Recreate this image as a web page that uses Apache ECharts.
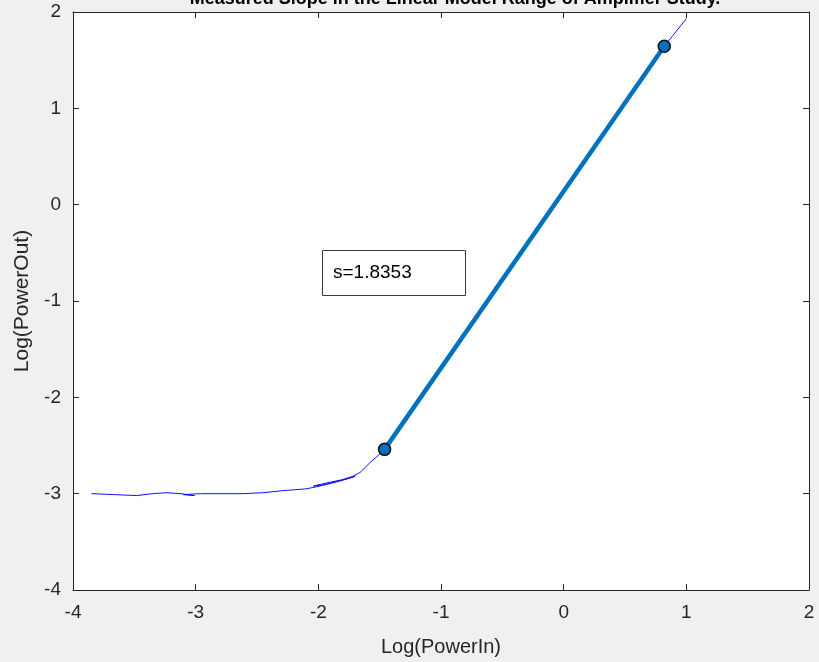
<!DOCTYPE html>
<html>
<head>
<meta charset="utf-8">
<script src="https://cdn.jsdelivr.net/npm/echarts@6/dist/echarts.min.js"></script>
<style>
  html, body { margin: 0; padding: 0; background: #f0f0f0; }
  #chart { width: 819px; height: 662px; }
</style>
</head>
<body>
<div id="chart"></div>
<script>
// Measured transfer curve (log input power vs log output power)
const measuredX = [-3.85, -3.66, -3.48, -3.35, -3.24, -3.12, -3.01, -3.10, -2.96, -2.80,
                   -2.62, -2.45, -2.30, -2.20, -2.10, -2.02, -1.92, -1.80, -1.70, -1.78,
                   -1.90, -2.04, -1.96, -1.84, -1.72, -1.66, -1.58, -1.50, -1.46, -1.30,
                   -1.00, -0.50, 0.00, 0.50, 0.82, 1.00];
const measuredY = [-3.00, -3.01, -3.02, -3.00, -2.99, -3.00, -3.02, -3.01, -3.00, -3.00,
                   -3.00, -2.99, -2.97, -2.96, -2.95, -2.93, -2.90, -2.86, -2.82, -2.85,
                   -2.88, -2.92, -2.91, -2.87, -2.82, -2.78, -2.68, -2.59, -2.54, -2.25,
                   -1.70, -0.78, 0.14, 1.06, 1.645, 1.93];

// Linear-region fit endpoints and its slope
const fitX = [-1.46, 0.82];
const fitY = [-2.54, 1.645];
const slope = 1.8353;

// Axis ticks
const xTicks = [-4, -3, -2, -1, 0, 1, 2];
const yTicks = [-4, -3, -2, -1, 0, 1, 2];

const titleText = 'Measured Slope in the Linear Model Range of Amplifier Study.';

const axisColor = '#262626';
const font = '"Liberation Sans", Arial, Helvetica, sans-serif';

const chart = echarts.init(document.getElementById('chart'));

function pairs(xs, ys) { return xs.map((x, i) => [x, ys[i]]); }

const boxAxis = (extra) => Object.assign({
  type: 'value',
  axisLine: { show: true, onZero: false, lineStyle: { color: axisColor, width: 1 } },
  axisTick: { show: true, inside: true, length: 6, lineStyle: { color: axisColor } },
  axisLabel: { show: false },
  splitLine: { show: false }
}, extra);

chart.setOption({
  backgroundColor: '#f0f0f0',
  animation: false,
  textStyle: { fontFamily: font },
  grid: { left: 73, right: 10, top: 12, bottom: 72, show: true, backgroundColor: '#ffffff', borderWidth: 0 },
  xAxis: [
    boxAxis({
      position: 'bottom', min: xTicks[0], max: xTicks[xTicks.length - 1], interval: 1,
      axisLabel: { show: true, color: axisColor, fontSize: 19, margin: 13, fontFamily: font },
      name: 'Log(PowerIn)', nameLocation: 'middle', nameGap: 47,
      nameTextStyle: { color: axisColor, fontSize: 20, fontFamily: font }
    }),
    boxAxis({ position: 'top', min: xTicks[0], max: xTicks[xTicks.length - 1], interval: 1 })
  ],
  yAxis: [
    boxAxis({
      position: 'left', min: yTicks[0], max: yTicks[yTicks.length - 1], interval: 1,
      axisLabel: { show: true, color: axisColor, fontSize: 19, margin: 12, fontFamily: font },
      name: 'Log(PowerOut)', nameLocation: 'middle', nameGap: 40,
      nameTextStyle: { color: axisColor, fontSize: 21, fontFamily: font }
    }),
    boxAxis({ position: 'right', min: yTicks[0], max: yTicks[yTicks.length - 1], interval: 1 })
  ],
  series: [
    {
      type: 'line', xAxisIndex: 0, yAxisIndex: 0,
      data: pairs(measuredX, measuredY),
      showSymbol: false, smooth: false,
      lineStyle: { color: '#1010ff', width: 1 },
      z: 2
    },
    {
      type: 'line', xAxisIndex: 0, yAxisIndex: 0,
      data: pairs(fitX, fitY),
      showSymbol: true, symbol: 'circle', symbolSize: 12,
      itemStyle: { color: '#0072BD', borderColor: '#111111', borderWidth: 1.5 },
      lineStyle: { color: '#0072BD', width: 4.5 },
      z: 3
    }
  ],
  graphic: [
    {
      type: 'text', z: 10,
      style: {
        x: 455, y: 8, text: titleText, align: 'center', verticalAlign: 'bottom',
        font: 'bold 18px ' + font, fill: '#000000'
      }
    },
    {
      type: 'rect', z: 10,
      shape: { x: 322.5, y: 250.5, width: 143, height: 45 },
      style: { fill: '#ffffff', stroke: '#3a3a3a', lineWidth: 1 }
    },
    {
      type: 'text', z: 11,
      style: {
        x: 333, y: 273, text: 's=' + slope.toFixed(4), verticalAlign: 'middle',
        font: '19px ' + font, fill: '#000000'
      }
    }
  ]
});
</script>
</body>
</html>
